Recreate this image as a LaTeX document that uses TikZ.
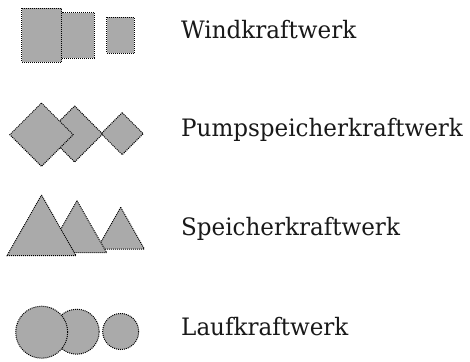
\documentclass[tikz,border=0pt]{standalone}
\usepackage{fontspec}
\setmainfont[FakeStretch=0.96]{DejaVu Serif}
\definecolor{shapegray}{HTML}{AAAAAA}
\tikzset{
  shp/.style={fill=shapegray, draw=black, line width=1pt, dash pattern=on 1pt off 1pt},
  lbl/.style={anchor=base west, inner sep=0pt, font=\fontsize{24}{28}\selectfont, text=black!90}
}
\begin{document}
\begin{tikzpicture}[x=1pt,y=-1pt]
\useasboundingbox (0,0) rectangle (470,361);
% rectangles
\draw[shp] (106.7,17.3) rectangle (134.3,53.3);
\draw[shp] (61.7,12.7) rectangle (94.3,58.3);
\draw[shp] (21.5,8.3) rectangle (61.7,62);
% diamonds
\draw[shp] (122.2,112.7) -- (143.2,133.7) -- (122.2,154.7) -- (101.2,133.7) -- cycle;
\draw[shp] (74.7,106) -- (102.7,134) -- (74.7,162) -- (46.7,134) -- cycle;
\draw[shp] (41.5,103) -- (73.2,134.7) -- (41.5,166.4) -- (9.8,134.7) -- cycle;
% triangles
\draw[shp] (120.7,207.3) -- (144.3,249) -- (97.1,249) -- cycle;
\draw[shp] (77,200.7) -- (106.7,252.7) -- (47.3,252.7) -- cycle;
\draw[shp] (41.5,195) -- (76,255.7) -- (7,255.7) -- cycle;
% circles
\draw[shp] (120.7,331.5) circle[radius=18];
\draw[shp] (76.7,331.7) circle[radius=22.5];
\draw[shp] (41.7,332.2) circle[radius=26];
% labels
\node[lbl] (wind) at (181,38.5) {Windkraftwerk};
\node[lbl] (pump) at (181,136.7) {Pumpspeicherkraftwerk};
\node[lbl] (speicher) at (181,235.7) {Speicherkraftwerk};
\node[lbl] (lauf) at (181,335.3) {Laufkraftwerk};
\end{tikzpicture}
\end{document}
